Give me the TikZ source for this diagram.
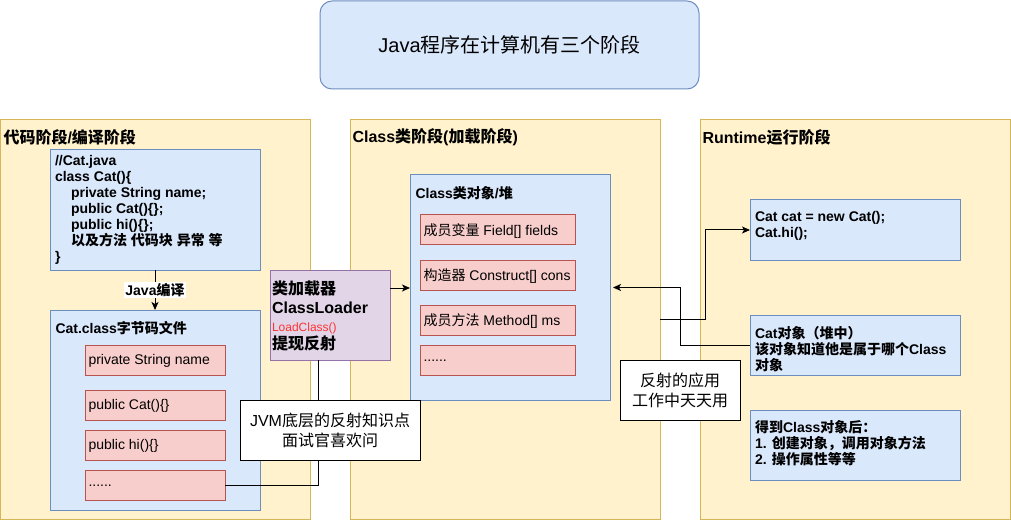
\documentclass[tikz,border=0pt]{standalone}
\usepackage{fontspec}
\setmainfont{Liberation Sans}
\newfontfamily\cjkfont{Noto Sans CJK SC}
% Chinese characters switch to the CJK family on their own
\XeTeXinterchartokenstate=1
\newXeTeXintercharclass\hanclass
\newcount\hanpos
\hanpos="3000
\loop\XeTeXcharclass\hanpos=\hanclass\relax\ifnum\hanpos<"9FFF\relax\advance\hanpos by 1\repeat
\hanpos="FF00
\loop\XeTeXcharclass\hanpos=\hanclass\relax\ifnum\hanpos<"FFEF\relax\advance\hanpos by 1\repeat
\XeTeXinterchartoks 0 \hanclass={\begingroup\cjkfont}
\XeTeXinterchartoks 4095 \hanclass={\begingroup\cjkfont}
\XeTeXinterchartoks \hanclass 0={\endgroup}
\XeTeXinterchartoks \hanclass 4095={\endgroup}
\usetikzlibrary{arrows.meta}
\definecolor{bluefill}{HTML}{DAE8FC}
\definecolor{blueline}{HTML}{6C8EBF}
\definecolor{stagefill}{HTML}{FFF2CC}
\definecolor{stageline}{HTML}{D6B656}
\definecolor{redfill}{HTML}{F8CECC}
\definecolor{redline}{HTML}{B85450}
\definecolor{loaderfill}{HTML}{E1D5E7}
\definecolor{loaderline}{HTML}{9673A6}
\definecolor{loadred}{HTML}{FF3333}
\newcommand{\codefont}{\fontsize{14}{16}\selectfont\bfseries}
\newcommand{\bodyfont}{\fontsize{14}{16}\selectfont}

\begin{document}
\begin{tikzpicture}[x=1pt, y=-1pt, line width=1pt,
  box/.style={anchor=north west, inner sep=0pt, outer sep=0pt},
  stage/.style={box, draw=stageline, fill=stagefill, minimum width=310pt, minimum height=399pt},
  stagetitle/.style={anchor=west, inner sep=0pt, font=\fontsize{16}{19}\selectfont\bfseries},
  bluebox/.style={box, draw=blueline, fill=bluefill},
  runbox/.style={bluebox, minimum width=210pt},
  redbox/.style={box, draw=redline, fill=redfill, minimum height=30pt},
  itemtext/.style={anchor=west, inner sep=0pt, font=\bodyfont},
  notebox/.style={box, draw=black, fill=white, align=center, font=\fontsize{16}{20}\selectfont},
  flow/.style={-{Stealth[length=8pt, width=7pt, inset=2pt]}}]
\useasboundingbox (0,0) rectangle (1011,521);

% title
\node[bluebox, rounded corners=12pt, minimum width=379pt, minimum height=88pt] (title) at (320,1) {};
\node (titletext) at (title.center) {\fontsize{20}{24}\selectfont Java程序在计算机有三个阶段};

% three stages
\node[stage] (stageA) at (0,120) {};
\node[stage] (stageB) at (350,120) {};
\node[stage] (stageC) at (700,120) {};
\node[stagetitle] (titleA) at (3,137) {代码阶段/编译阶段};
\node[stagetitle] (titleB) at (352,137) {Class类阶段(加载阶段)};
\node[stagetitle] (titleC) at (702,137) {Runtime运行阶段};

% source code
\node[bluebox, minimum width=210pt, minimum height=120pt] (src) at (50,150) {};
\node[box, align=left, font=\codefont] (srctext) at (55,155) {//Cat.java\\
class Cat()\{\\
\hspace*{16pt}private String name;\\
\hspace*{16pt}public Cat()\{\};\\
\hspace*{16pt}public hi()\{\};\\
\hspace*{16pt}以及方法 代码块 异常 等\\
\}};

% byte code file
\node[bluebox, minimum width=210pt, minimum height=200pt] (classfile) at (50,310) {};
\node[itemtext, font=\codefont] (classfiletitle) at (55,328) {Cat.class字节码文件};
\node[redbox, minimum width=140pt] (fname) at (85,345) {};
\node[redbox, minimum width=140pt] (fcons) at (85,390) {};
\node[redbox, minimum width=140pt] (fhi) at (85,430) {};
\node[redbox, minimum width=140pt] (fmore) at (85,470) {};
\node[itemtext] (fnametext) at ([xshift=3pt,yshift=-1pt]fname.west) {private String name};
\node[itemtext] (fconstext) at ([xshift=3pt,yshift=-1pt]fcons.west) {public Cat()\{\}};
\node[itemtext] (fhitext) at ([xshift=3pt,yshift=-1pt]fhi.west) {public hi()\{\}};
\node[itemtext] (fmoretext) at ([xshift=3pt,yshift=-1pt]fmore.west) {......};

\draw[flow] (src) -- node[fill=white, inner sep=1pt, font=\codefont] (compile) {Java编译} (classfile);

% class object in the heap
\node[bluebox, minimum width=200pt, minimum height=225pt] (classobj) at (410,175) {};
\node[itemtext, font=\codefont] (classobjtitle) at (415,193) {Class类对象/堆};
\node[redbox, minimum width=155pt] (mfield) at (420,215) {};
\node[redbox, minimum width=155pt] (mcons) at (420,260) {};
\node[redbox, minimum width=155pt] (mmethod) at (420,305) {};
\node[redbox, minimum width=155pt] (mmore) at (420,345) {};
\node[itemtext] (mfieldtext) at ([xshift=3pt,yshift=-1pt]mfield.west) {成员变量 Field[] fields};
\node[itemtext] (mconstext) at ([xshift=3pt,yshift=-1pt]mcons.west) {构造器 Construct[] cons};
\node[itemtext] (mmethodtext) at ([xshift=3pt,yshift=-1pt]mmethod.west) {成员方法 Method[] ms};
\node[itemtext] (mmoretext) at ([xshift=3pt,yshift=-1pt]mmore.west) {......};

% class loader
\node[box, draw=loaderline, fill=loaderfill, minimum width=120pt, minimum height=90pt] (loader) at (270,270) {};
\node[box, align=left, font=\fontsize{16}{19}\selectfont\bfseries] (loadertext) at (272,281)
  {类加载器\\ClassLoader\\[-1pt]{\color{loadred}\fontsize{12}{15}\selectfont\mdseries LoadClass()}\\[-1pt]提现反射};
\draw[flow] ([yshift=27pt]loader.east) -- ([yshift=27pt]loader.east -| classobj.west);
\draw ([xshift=-12pt]loader.south) |- (fmore.east);

% runtime
\node[runbox, minimum height=60pt] (newcat) at (750,200) {};
\node[runbox, minimum height=60pt] (catobj) at (750,315) {};
\node[runbox, minimum height=70pt] (usage) at (750,410) {};
\node[box, align=left, font=\codefont] (newcattext) at (755,211) {Cat cat = new Cat();\\Cat.hi();};
\node[box, align=left, font=\codefont] (catobjtext) at (755,326) {Cat对象（堆中）\\该对象知道他是属于哪个Class\\对象};
\node[box, align=left, font=\codefont] (usagetext) at (755,420) {得到Class对象后：\\1. 创建对象，调用对象方法\\2. 操作属性等等};
\draw[flow] (catobj.west) -- ++(-70,0) |- ([xshift=3pt]classobj.east);
\draw[flow] (stageB.east) -- ++(45,0) |- (newcat.west);

% notes
\node[notebox, minimum width=180pt, minimum height=60pt] (jvmnote) at (240,400) {};
\node (jvmnotetext) at (jvmnote.center) [align=center, font=\fontsize{16}{20}\selectfont] {JVM底层的反射知识点\\面试官喜欢问};
\node[notebox, minimum width=120pt, minimum height=60pt] (appnote) at (620,360) {};
\node (appnotetext) at (appnote.center) [align=center, font=\fontsize{16}{20}\selectfont] {反射的应用\\工作中天天用};
\end{tikzpicture}
\end{document}
